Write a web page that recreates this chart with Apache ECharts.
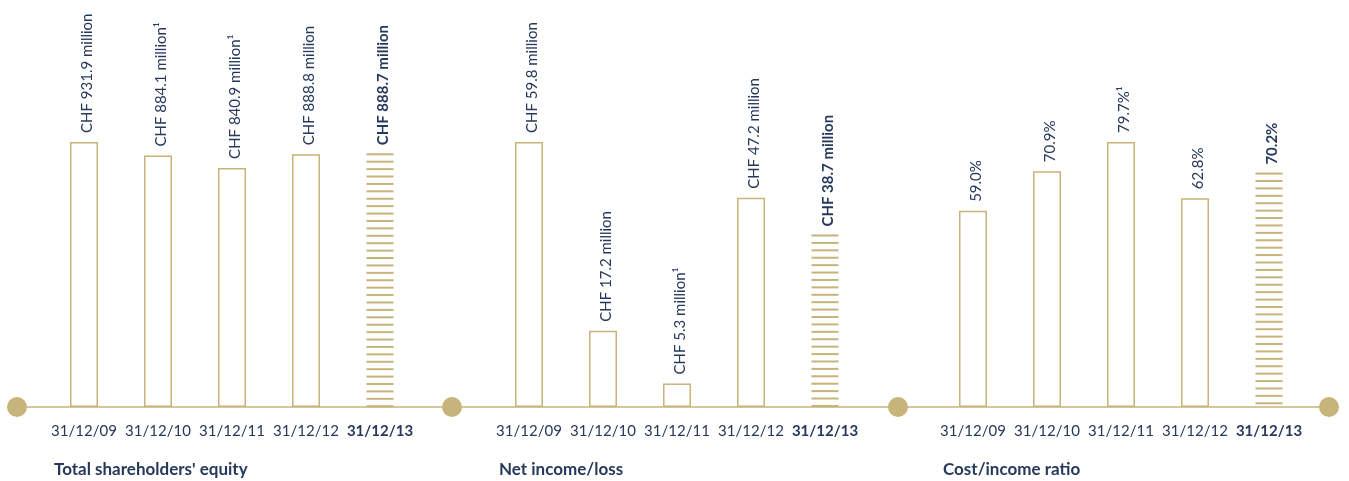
<!DOCTYPE html>
<html>
<head>
<meta charset="utf-8">
<script src="https://cdn.jsdelivr.net/npm/echarts@6/dist/echarts.min.js"></script>
<style>
html,body{margin:0;padding:0;background:#fff;}
#main{width:1349px;height:481px;}
</style>
</head>
<body>
<div id="main"></div>
<script>
// ---- data ----
const categories = ['31/12/09', '31/12/10', '31/12/11', '31/12/12', '31/12/13'];
const panelTitles = ["Total shareholders' equity", 'Net income/loss', 'Cost/income ratio'];
const equityValues = [931.9, 884.1, 840.9, 888.8, 888.7];
const netIncomeValues = [59.8, 17.2, 5.3, 47.2, 38.7];
const costIncomeValues = [59.0, 70.9, 79.7, 62.8, 70.2];
const equityLabels = ['CHF 931.9 million', 'CHF 884.1 million¹', 'CHF 840.9 million¹', 'CHF 888.8 million', 'CHF 888.7 million'];
const netIncomeLabels = ['CHF 59.8 million', 'CHF 17.2 million', 'CHF 5.3 million¹', 'CHF 47.2 million', 'CHF 38.7 million'];
const costIncomeLabels = ['59.0%', '70.9%', '79.7%¹', '62.8%', '70.2%'];

const panels = [
  { values: equityValues, labels: equityLabels, title: panelTitles[0] },
  { values: netIncomeValues, labels: netIncomeLabels, title: panelTitles[1] },
  { values: costIncomeValues, labels: costIncomeLabels, title: panelTitles[2] }
];

const GOLD = '#c6b47a';
const NAVY = '#26395a';
const FONT = 'Lato';
const gridLefts = [47, 492, 936];
const GRID_W = 370;

const chart = echarts.init(document.getElementById('main'), null, { renderer: 'canvas' });

const grids = [], xAxes = [], yAxes = [], series = [], titles = [];
panels.forEach((p, i) => {
  grids.push({ left: gridLefts[i], width: GRID_W, top: 142, bottom: 74, containLabel: false });
  xAxes.push({
    type: 'category', gridIndex: i,
    data: categories.map((c, k) => k === 4 ? { value: c, textStyle: { fontWeight: 'bold' } } : c),
    axisLine: { show: false }, axisTick: { show: false },
    axisLabel: { color: NAVY, fontSize: 15, fontFamily: FONT, margin: 17, interval: 0 }
  });
  yAxes.push({ type: 'value', gridIndex: i, min: 0, max: 'dataMax', show: false, splitLine: { show: false } });
  const last = p.values.length - 1;
  series.push({
    type: 'bar', xAxisIndex: i, yAxisIndex: i, barWidth: 28, silent: true,
    data: p.values.map((v, k) => ({
      value: v,
      itemStyle: k === last ? { color: 'rgba(0,0,0,0)', borderWidth: 0 } : { color: '#fff', borderColor: GOLD, borderWidth: 1.5 },
      label: k === last ? { fontWeight: 'bold' } : {}
    })),
    label: {
      show: true, position: 'top', rotate: 90, align: 'left', verticalAlign: 'middle',
      distance: 9, offset: [0, 3], color: NAVY, fontSize: 15, fontFamily: FONT,
      formatter: (prm) => p.labels[prm.dataIndex]
    },
    z: 3
  });
  // hatched last bar
  series.push({
    type: 'custom', xAxisIndex: i, yAxisIndex: i, silent: true, z: 4,
    data: [[last, p.values[last]]],
    renderItem: function (params, api) {
      const topPt = api.coord([api.value(0), api.value(1)]);
      const basePt = api.coord([api.value(0), 0]);
      const w = 27;
      const children = [];
      const period = 7.41;
      for (let y = topPt[1]; y <= basePt[1] + 0.5; y += period) {
        children.push({ type: 'rect', shape: { x: topPt[0] - w / 2, y: y - 1, width: w, height: 2 }, style: { fill: GOLD } });
      }
      return { type: 'group', children: children };
    }
  });
  titles.push({
    text: p.title, left: gridLefts[i] + 2, top: 456,
    textStyle: { color: NAVY, fontSize: 17, fontWeight: 'bold', fontFamily: FONT }
  });
});

chart.setOption({
  animation: false,
  title: titles,
  grid: grids,
  xAxis: xAxes,
  yAxis: yAxes,
  series: series
});

// decorative baseline and dots, positioned from the axes
const baseY = chart.convertToPixel({ gridIndex: 0 }, [0, 0])[1];
const dotXs = [17, 452, 898, 1329];
chart.setOption({
  graphic: [
    { type: 'line', z: 1, shape: { x1: dotXs[0], y1: baseY, x2: dotXs[3], y2: baseY }, style: { stroke: GOLD, lineWidth: 1.5 } }
  ].concat(dotXs.map(x => ({ type: 'circle', z: 5, shape: { cx: x, cy: baseY, r: 10 }, style: { fill: GOLD } })))
});
</script>
</body>
</html>
